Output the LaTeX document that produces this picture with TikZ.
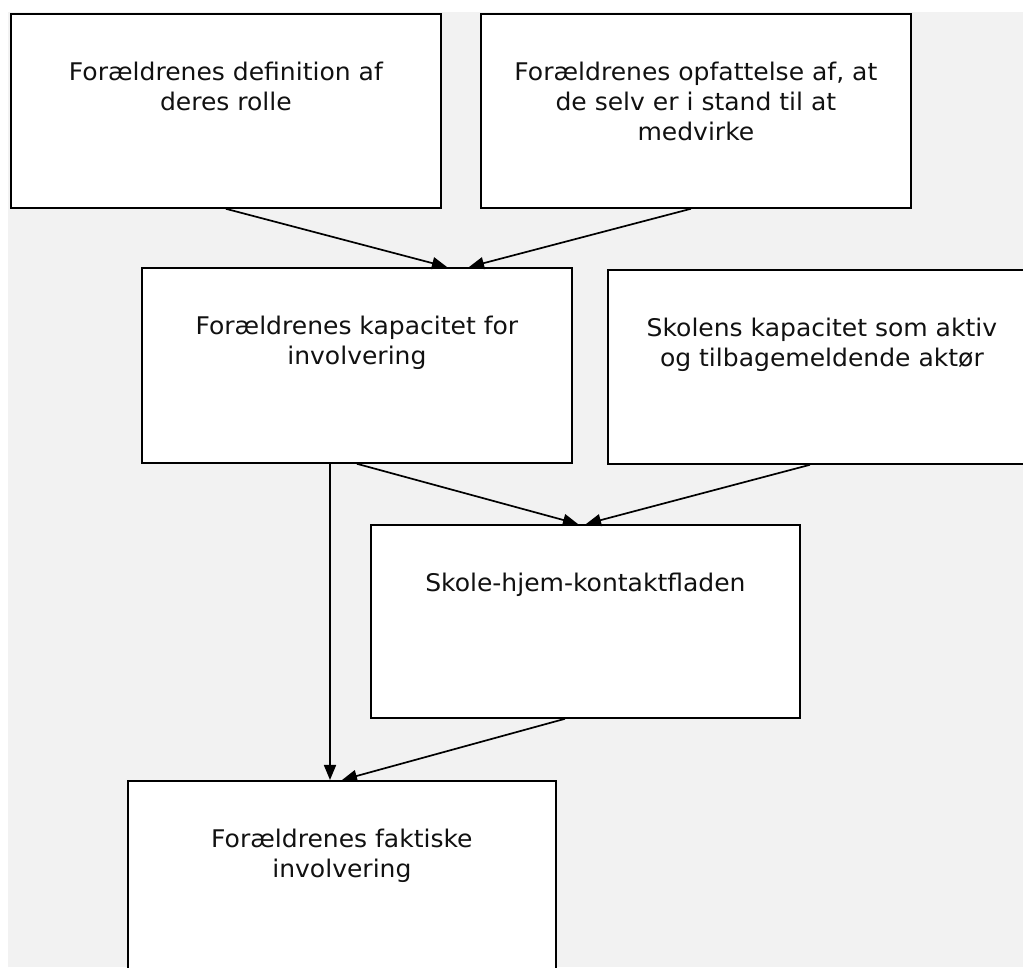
\documentclass[tikz,border=0pt]{standalone}
\usepackage{fontspec}
\setmainfont[FakeStretch=1.03]{DejaVu Sans}
\usetikzlibrary{arrows.meta}
\definecolor{bggray}{HTML}{F2F2F2}
\definecolor{txtcol}{HTML}{111111}
\begin{document}
\begin{tikzpicture}[x=1pt,y=1pt,
  box/.style={draw=black, line width=1.8pt, fill=white, anchor=north west, inner sep=0pt, minimum width=#1},
  box/.default=430pt,
  txt/.style={text=txtcol, font=\fontsize{24.3pt}{30pt}\selectfont, align=center, anchor=north, inner sep=0pt},
  conn/.style={draw=black, line width=1.7pt, -{Triangle[length=15pt,width=12pt]}}]
\useasboundingbox (0,0) rectangle (1023,967);
\fill[white] (0,0) rectangle (1023,967);
\fill[bggray] (8,0) rectangle (1023,955);
% boxes
\node[box, minimum height=194pt] (b1) at (10,954) {};
\node[box, minimum height=194pt] (b2) at (480,954) {};
\node[box, minimum height=195pt] (b3) at (141,700) {};
\node[box=430pt, minimum height=194pt] (b4) at (607,698) {};
\node[box=429pt, minimum height=193pt] (b5) at (370,443) {};
\node[box=428pt, minimum height=200pt] (b6) at (127,187) {};
% texts
\node[txt] (t1) at ([yshift=-48.5pt]b1.north) {Forældrenes definition af\\deres rolle};
\node[txt] (t2) at ([yshift=-48.5pt]b2.north) {Forældrenes opfattelse af, at\\de selv er i stand til at\\medvirke};
\node[txt] (t3) at ([yshift=-48.5pt]b3.north) {Forældrenes kapacitet for\\involvering};
\node[txt] (t4) at ([xshift=-1pt,yshift=-48.5pt]b4.north) {Skolens kapacitet som aktiv\\og tilbagemeldende aktør};
\node[txt] (t5) at ([yshift=-48.5pt]b5.north) {Skole-hjem-kontaktfladen};
\node[txt] (t6) at ([yshift=-48.5pt]b6.north) {Forældrenes faktiske\\involvering};
% connectors
\draw[conn] (b1.south) -- ([xshift=306pt]b3.north west);
\draw[conn] ([xshift=-5pt]b2.south) -- ([xshift=328pt]b3.north west);
\draw[conn] (b3.south) -- ([xshift=208pt]b5.north west);
\draw[conn] ([xshift=203pt]b4.south west) -- ([xshift=216pt]b5.north west);
\draw[conn] ([xshift=189pt]b3.south west) -- ([xshift=203pt]b6.north west);
\draw[conn] ([xshift=195pt]b5.south west) -- ([xshift=215pt]b6.north west);
\end{tikzpicture}
\end{document}
